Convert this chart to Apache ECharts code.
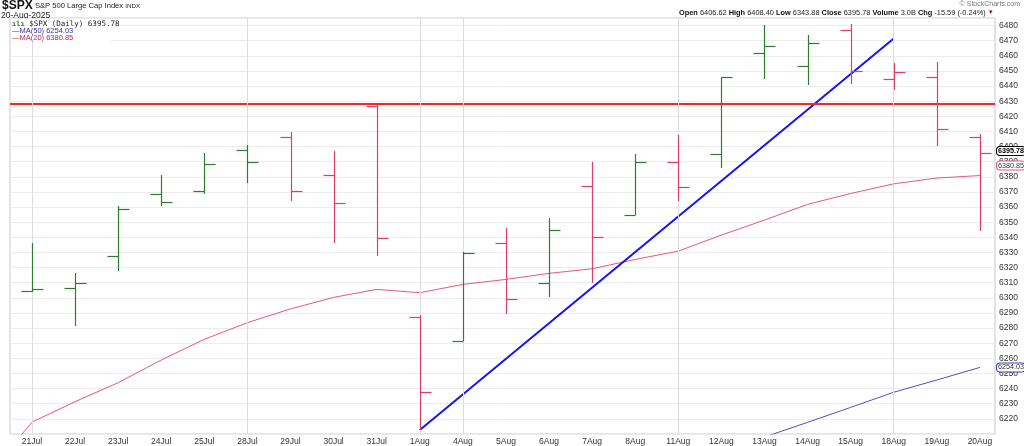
<!DOCTYPE html>
<html><head><meta charset="utf-8">
<script src="https://cdn.jsdelivr.net/npm/echarts@6/dist/echarts.min.js"></script>
<style>html,body{margin:0;padding:0;background:#fff}#c{width:1024px;height:446px}</style>
</head><body><div id="c"></div>
<script>
// ---- data ----
const dates = ['21Jul','22Jul','23Jul','24Jul','25Jul','28Jul','29Jul','30Jul','31Jul','1Aug','4Aug','5Aug','6Aug','7Aug','8Aug','11Aug','12Aug','13Aug','14Aug','15Aug','18Aug','19Aug','20Aug'];
const opens  = [6304.7,6306.6,6327.5,6368.6,6370.5,6397.6,6406.2,6381.5,6427.0,6287.3,6271.7,6336.5,6309.5,6374.2,6355.0,6389.8,6395.3,6462.0,6453.0,6476.8,6445.0,6446.2,6406.62];
const highs  = [6336.1,6316.1,6361.0,6381.5,6396.0,6401.2,6409.4,6396.8,6427.2,6288.5,6330.5,6346.5,6353.0,6390.0,6395.3,6407.4,6446.0,6480.3,6473.5,6481.3,6455.0,6456.0,6408.40];
const lows   = [6303.8,6281.7,6317.8,6360.7,6368.6,6375.9,6363.9,6336.3,6327.5,6212.7,6271.3,6289.0,6300.6,6309.8,6355.0,6364.3,6385.8,6444.6,6441.0,6441.7,6437.3,6400.1,6343.88];
const closes = [6305.6,6309.6,6359.0,6363.4,6388.6,6389.8,6370.9,6362.9,6339.4,6238.0,6329.9,6299.2,6345.1,6340.0,6389.5,6373.5,6445.8,6466.6,6468.5,6449.8,6449.15,6411.37,6395.78];
const prevClose = 6296.8;            // close before 21Jul
const ma20Idx = [-1,0,1,2,3,4,5,6,7,8,9,10,11,12,13,14,15,16,17,18,19,20,21,22];
const ma20    = [6184,6217.8,6231.4,6243.9,6258.9,6272.6,6283.6,6292.7,6300.3,6305.6,6303.4,6308.9,6312.2,6316.2,6319.2,6325.4,6330.9,6341.5,6351.4,6361.8,6369.0,6375.4,6379.2,6380.85];
const ma50Idx = [16,17,18,19,20,21,22];
const ma50    = [6199.0,6208.0,6217.7,6227.6,6237.6,6245.7,6254.03];
const trendIdx = [9,20];
const trendVal = [6212.7,6471.5];
const resistance = 6428;
const gridDays = [0,5,9,10,15,20];
const volumeText = '3.0B';
const headerDate = '20-Aug-2025';

// ---- chart ----
const GREEN = '#2f7d32', RED = '#dc3f67';
const n = dates.length;
const xMin = -0.51, xMax = 22.35;
const last = n - 1;
const chg = closes[last] - closes[last-1];
const pct = chg / closes[last-1] * 100;
const ohlc = dates.map((d,i)=>[i, opens[i], highs[i], lows[i], closes[i], i===0?prevClose:closes[i-1]]);
const f2 = v => v.toFixed(2);

const chart = echarts.init(document.getElementById('c'));
const lblFont = 'Arial, "Liberation Sans", sans-serif';
const box = (col, bold) => ({show:true, position:'right', distance:2, backgroundColor:'#fff', borderColor:col, borderWidth:1, borderRadius:3,
  padding:[1,1,0,1], fontSize:7.2, fontFamily:lblFont, color: bold ? '#000' : '#333', fontWeight: bold ? 'bold':'normal'});

chart.setOption({
  animation:false,
  grid:{left:10, right:29, top:18, bottom:12, show:true, borderColor:'#c8c8c8', borderWidth:1},
  xAxis:{type:'value', min:xMin, max:xMax,
    axisLine:{show:false}, axisTick:{show:false}, splitLine:{show:false},
    axisLabel:{customValues: dates.map((d,i)=>i), formatter: v => dates[Math.round(v)] || '', fontSize:8.5, color:'#333', fontFamily:lblFont, margin:3}},
  yAxis:{type:'value', position:'right', min:6210, max:6485, interval:10, scale:true,
    axisLine:{show:false}, axisTick:{show:false},
    axisLabel:{showMinLabel:false, showMaxLabel:false, formatter: v => String(Math.round(v)), fontSize:8.5, color:'#333', fontFamily:lblFont, margin:4},
    splitLine:{lineStyle:{color:'#ececec', width:1}}},
  graphic:[
    {type:'text', left:2, top:0, style:{text:'{a|$SPX} {b|S&P 500 Large Cap Index} {c|INDX}', font:'8px Arial, "Liberation Sans"', fill:'#222',
      rich:{a:{font:'bold 12px Arial, "Liberation Sans"', fill:'#111'}, b:{font:'7.6px Arial, "Liberation Sans"', fill:'#222'}, c:{font:'6.2px Arial, "Liberation Sans"', fill:'#222'}}}},
    {type:'text', left:1, top:11, style:{text:headerDate, font:'8.5px Arial, "Liberation Sans"', fill:'#222'}},
    {type:'rect', left:11, top:19, shape:{width:100, height:23}, style:{fill:'#fff'}, z:10},
    {type:'text', left:12, top:20, z:11, style:{text:'{g|ılı} $SPX (Daily) ' + f2(closes[last]), font:'7.5px "DejaVu Sans Mono", monospace', fill:'#222',
        rich:{g:{fill:GREEN, font:'bold 7px "DejaVu Sans Mono"'}}}},
    {type:'text', left:12, top:27, z:11, style:{text:'—MA(50) ' + f2(ma50[ma50.length-1]), font:'7.5px Arial, "Liberation Sans"', fill:'#3333aa'}},
    {type:'text', left:12, top:34, z:11, style:{text:'—MA(20) ' + f2(ma20[ma20.length-1]), font:'7.5px Arial, "Liberation Sans"', fill:'#cc2244'}},
    {type:'text', right:4, top:1, style:{text:'© StockCharts.com', font:'7px Arial, "Liberation Sans"', fill:'#777'}},
    {type:'text', left:679, top:9, style:{
      text:'{b|Open} ' + f2(opens[last]) + ' {b|High} ' + f2(highs[last]) + ' {b|Low} ' + f2(lows[last]) + ' {b|Close} ' + f2(closes[last]) +
           ' {b|Volume} ' + volumeText + ' {b|Chg} ' + f2(chg) + ' (' + pct.toFixed(2) + '%) {r|▼}',
      font:'7.4px Arial, "Liberation Sans"', fill:'#222',
      rich:{b:{font:'bold 7.4px Arial, "Liberation Sans"', fill:'#111'}, r:{fill:'#cc0000', font:'6px Arial'}}}}
  ],
  series:[
    {type:'line', name:'MA20', data: ma20Idx.map((x,i)=>[x, ma20[i]]), symbol:'none', clip:true,
      lineStyle:{color:'#e6587c', width:1}, z:3,
      markPoint:{symbol:'rect', symbolSize:0, silent:true, data:[
        {coord:[xMax, closes[last]], label:Object.assign(box('#000', true), {offset:[0,-2], formatter:f2(closes[last])})},
        {coord:[xMax, ma20[ma20.length-1]], label:Object.assign(box('#e6587c', false), {offset:[0,-10], formatter:f2(ma20[ma20.length-1])})},
        {coord:[xMax, ma50[ma50.length-1]], label:Object.assign(box('#4040b0', false), {offset:[0,0], formatter:f2(ma50[ma50.length-1])})}
      ]}},
    {type:'line', name:'MA50', data: ma50Idx.map((x,i)=>[x, ma50[i]]), symbol:'none', clip:true,
      lineStyle:{color:'#5050c0', width:1}, z:3},
    {type:'line', name:'Trend', data: trendIdx.map((x,i)=>[x, trendVal[i]]), symbol:'none',
      lineStyle:{color:'#1414f5', width:2}, z:4,
      markLine:{symbol:'none', silent:true, label:{show:false},
        data:[{yAxis:resistance}], lineStyle:{color:'#ff2222', width:2, type:'solid'}}},
    {type:'custom', name:'SPX', data: ohlc, encode:{x:0, y:[1,2,3,4]}, z:5,
      renderItem(params, api){
        const i = api.value(0);
        const h = api.coord([i, api.value(2)]);
        const l = api.coord([i, api.value(3)]);
        const o = api.coord([i, api.value(1)]);
        const c = api.coord([i, api.value(4)]);
        const col = api.value(4) >= api.value(5) ? GREEN : RED;
        const x = Math.round(h[0]) + 0.5;
        const yo = Math.round(o[1]) + 0.5, yc = Math.round(c[1]) + 0.5;
        const st = {stroke:col, lineWidth:1.2};
        return {type:'group', children:[
          {type:'line', shape:{x1:x, y1:Math.round(h[1]), x2:x, y2:Math.round(l[1])}, style:st},
          {type:'line', shape:{x1:x-11, y1:yo, x2:x, y2:yo}, style:st},
          {type:'line', shape:{x1:x, y1:yc, x2:x+11, y2:yc}, style:st}
        ]};
      },
      markLine:{symbol:'none', silent:true, label:{show:false},
        lineStyle:{color:'#dcdcdc', width:1, type:'solid'},
        data: gridDays.map(d=>({xAxis:d}))}}
  ]
});
</script></body></html>
